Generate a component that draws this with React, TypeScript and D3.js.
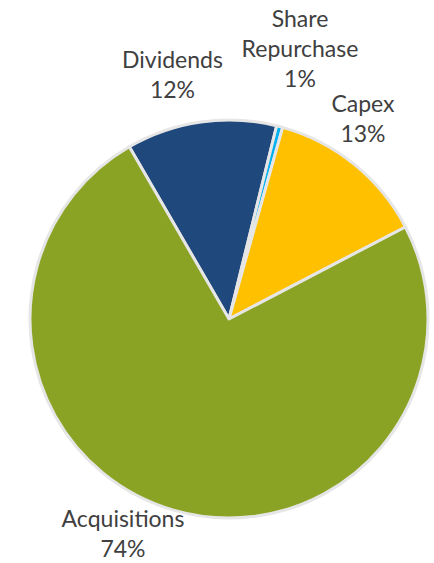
import React from "react";
import * as d3 from "d3";

const categories = ["Dividends", "Share Repurchase", "Capex", "Acquisitions"];
const values = [12.2, 0.5, 13.0, 74.3];
const colors = ["#1F497D", "#00B0F0", "#FFC000", "#8AA324"];
const labelLines = [["Dividends"], ["Share", "Repurchase"], ["Capex"], ["Acquisitions"]];

// label anchor positions relative to pie centre (layout, not data)
const labelPos: [number, number][] = [
  [-56.5, -251],
  [71, -292.5],
  [134, -207],
  [-106, 208],
];

const W = 434;
const H = 563;
const cx = 229;
const cy = 319;
const R = 199;
const startDeg = -30.07;
const fontSize = 23;
const lineH = 30;

export default function App() {
  const total = d3.sum(values);
  const start = (startDeg * Math.PI) / 180;
  const pie = d3
    .pie<number>()
    .sort(null)
    .value((d) => d)
    .startAngle(start)
    .endAngle(start + 2 * Math.PI);
  const arcs = pie(values);
  const arc = d3.arc<d3.PieArcDatum<number>>().innerRadius(0).outerRadius(R);
  const color = d3.scaleOrdinal<string, string>().domain(categories).range(colors);

  return (
    <svg
      width={W}
      height={H}
      style={{ position: "absolute", left: 0, top: 0, background: "#fff" }}
    >
      <g transform={`translate(${cx},${cy})`}>
        {arcs.map((a, i) => (
          <path
            key={categories[i]}
            d={arc(a) || ""}
            fill={color(categories[i])}
            stroke="#E7E6E6"
            strokeWidth={3}
            strokeLinejoin="round"
          />
        ))}
        {arcs.map((a, i) => {
          const lines = [...labelLines[i], `${Math.round((values[i] / total) * 100)}%`];
          const [lx, ly] = labelPos[i];
          return (
            <text
              key={"l" + i}
              x={lx}
              y={ly}
              textAnchor="middle"
              fontFamily="Lato, 'Open Sans', sans-serif"
              fontSize={fontSize}
              fill="#404040"
            >
              {lines.map((t, j) => (
                <tspan key={j} x={lx} y={ly + j * lineH}>
                  {t}
                </tspan>
              ))}
            </text>
          );
        })}
      </g>
    </svg>
  );
}
